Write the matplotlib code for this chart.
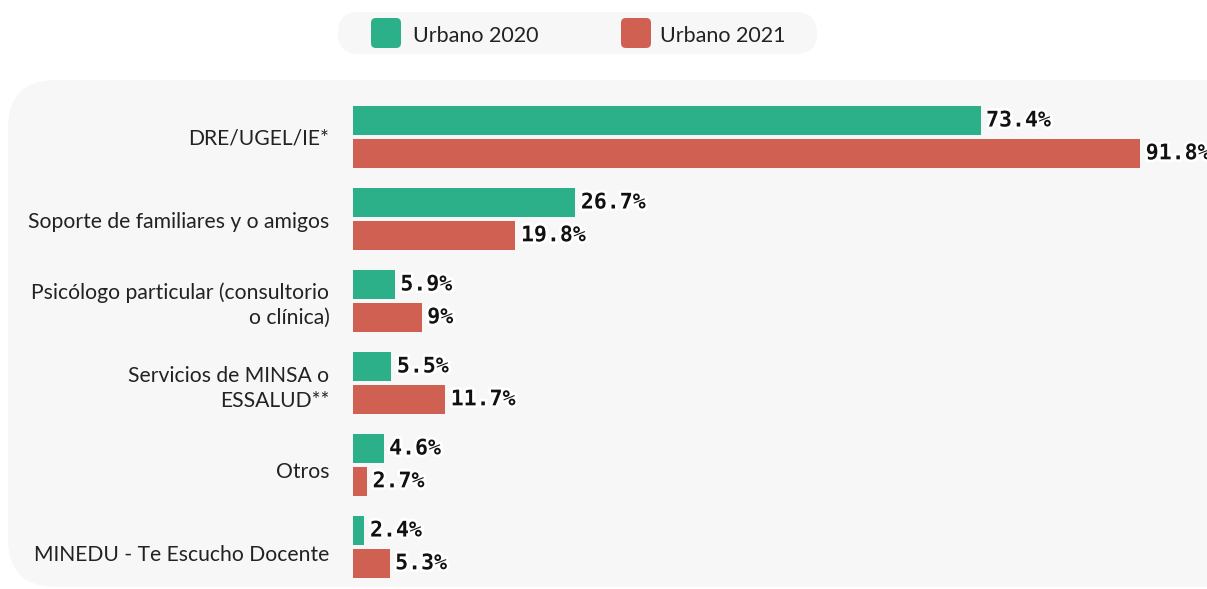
import matplotlib
matplotlib.use("Agg")
import matplotlib.pyplot as plt
from matplotlib.patches import FancyBboxPatch
import matplotlib.patheffects as pe
import numpy as np

categories = [
    "DRE/UGEL/IE*",
    "Soporte de familiares y o amigos",
    "Psicólogo particular (consultorio\no clínica)",
    "Servicios de MINSA o\nESSALUD**",
    "Otros",
    "MINEDU - Te Escucho Docente",
]
urbano_2020 = [73.4, 26.7, 5.9, 5.5, 4.6, 2.4]
urbano_2021 = [91.8, 19.8, 9.0, 11.7, 2.7, 5.3]
labels_2020 = ["73.4%", "26.7%", "5.9%", "5.5%", "4.6%", "2.4%"]
labels_2021 = ["91.8%", "19.8%", "9%", "11.7%", "2.7%", "5.3%"]
series_names = ["Urbano 2020", "Urbano 2021"]

GREEN = "#2BB08A"
RED = "#D06152"
PANEL = "#F7F7F7"
TEXT = "#222222"

W, H = 1207, 589
fig = plt.figure(figsize=(W / 100, H / 100), dpi=100)
fig.patch.set_facecolor("white")


def fx(px):
    return px / W


def fy(py):
    return 1 - py / H


# rounded panel behind the bars
panel = FancyBboxPatch((fx(8), fy(587)), fx(1260) - fx(8), fy(80) - fy(587),
                       boxstyle="round,pad=0,rounding_size=0.04",
                       transform=fig.transFigure, facecolor=PANEL,
                       edgecolor="none", zorder=-2, mutation_aspect=W / H)
fig.patches.append(panel)

# legend pill
pill = FancyBboxPatch((fx(338), fy(54)), fx(817) - fx(338), fy(12) - fy(54),
                      boxstyle="round,pad=0,rounding_size=0.0174",
                      transform=fig.transFigure, facecolor=PANEL,
                      edgecolor="none", zorder=-2, mutation_aspect=W / H)
fig.patches.append(pill)
for (sx, tx), col, name in zip([(371, 413), (621, 660)], [GREEN, RED], series_names):
    sq = FancyBboxPatch((fx(sx), fy(48)), fx(30), fy(18) - fy(48),
                        boxstyle="round,pad=0,rounding_size=0.004",
                        transform=fig.transFigure, facecolor=col,
                        edgecolor="none", zorder=-1, mutation_aspect=W / H)
    fig.patches.append(sq)
    fig.text(fx(tx), fy(36), name, fontsize=15.5, family="Lato", color=TEXT,
             ha="left", va="center")

# bar axes
ax = fig.add_axes([fx(353), fy(589), fx(1207) - fx(353), fy(80) - fy(589)])
ax.set_zorder(2)
ax.patch.set_alpha(0)
for s in ax.spines.values():
    s.set_visible(False)
ax.set_xticks([])
ax.set_yticks([])

y = np.arange(len(categories))
off = 0.2
h = 0.35
ax.barh(y - off, urbano_2020, height=h, color=GREEN, left=0)
ax.barh(y + off, urbano_2021, height=h, color=RED, left=0)
ax.set_xlim(1.08, 99.5)
ax.set_ylim(5.513, -0.694)

halo = [pe.withStroke(linewidth=4, foreground="white")]
for i in range(len(categories)):
    for v, lab, dy in [(urbano_2020[i], labels_2020[i], -off),
                       (urbano_2021[i], labels_2021[i], off)]:
        ax.annotate(lab, (v, i + dy), xytext=(4, 0), textcoords="offset points",
                    ha="left", va="center", fontsize=15.5, fontweight="bold",
                    family="DejaVu Sans Mono", color="#111111",
                    path_effects=halo, clip_on=False, annotation_clip=False)
    # category labels sit slightly lower as the list goes down
    drop = -(1.5 + 1.3 * i) * 0.72
    ax.annotate(categories[i], (0, i), xycoords=("axes fraction", "data"),
                xytext=(-17, drop), textcoords="offset points",
                ha="right", va="center", fontsize=15.2, family="Lato",
                color=TEXT, linespacing=1.28, multialignment="right")

fig.savefig("out.png", dpi=100)
